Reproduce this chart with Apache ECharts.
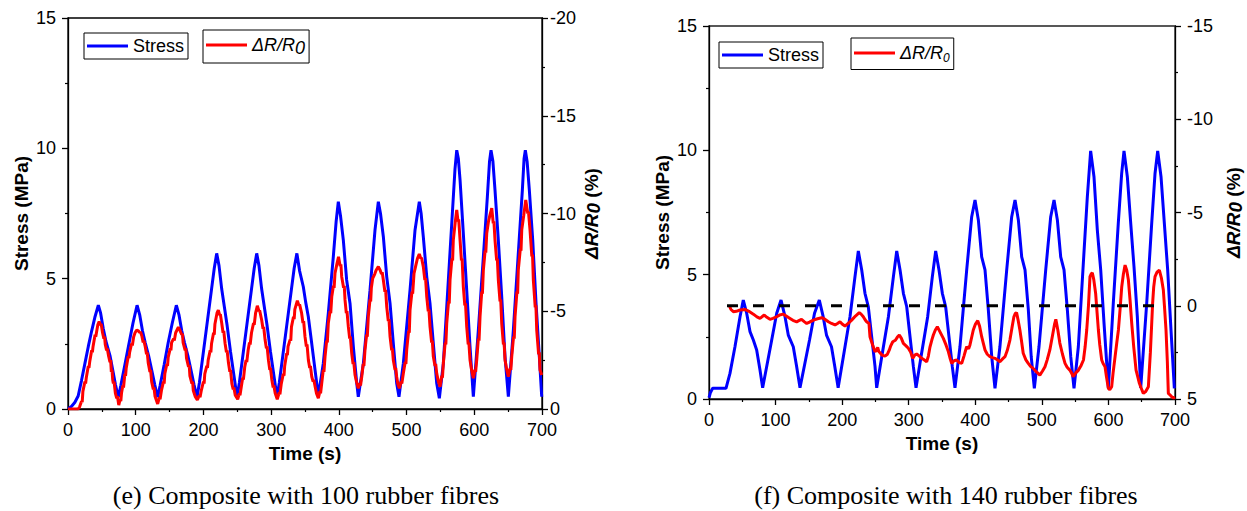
<!DOCTYPE html>
<html>
<head>
<meta charset="utf-8">
<script src="https://cdn.jsdelivr.net/npm/echarts@6.0.0/dist/echarts.min.js"></script>
<style>
html,body{margin:0;padding:0;background:#fff;}
#c{width:1247px;height:511px;}
</style>
</head>
<body>
<div id="c"></div>
<script>
// ---------- DATA ----------
const xTicks = [0, 100, 200, 300, 400, 500, 600, 700];
const captionE = '(e) Composite with 100 rubber fibres';
const captionF = '(f) Composite with 140 rubber fibres';

// (e) Stress (MPa) vs time (s)
const stressE = [
[0,0],[5,0.1],[10,0.25],[15,0.5],[20,1.1],[25,1.75],[30,2.4],[35,3.0],[40,3.55],[44.8,3.98],[48,3.7],[52,3.1],[56,2.6],[62,2.05],[66,1.5],[70,0.95],[74.3,0.45],
[78,0.9],[84,1.7],[90,2.5],[96,3.3],[102,3.98],[106,3.6],[110,3.0],[114,2.55],[119,2.05],[124,1.45],[128,0.95],[132.4,0.45],
[136,0.9],[142,1.7],[148,2.55],[154,3.3],[160,3.98],[164,3.6],[168,3.0],[172,2.55],[177,2.05],[182,1.45],[186,0.95],[190.5,0.45],
[194,1.0],[200,2.2],[206,3.4],[212,4.6],[216,5.4],[219.6,5.97],[223,5.5],[227,4.6],[231,3.9],[235,3.2],[240,2.2],[245,1.3],[249.6,0.45],
[253,1.0],[259,2.2],[265,3.4],[271,4.6],[275,5.4],[278.7,5.97],[282,5.5],[286,4.6],[290,3.9],[294,3.2],[299,2.2],[304,1.3],[308.6,0.45],
[312,1.0],[318,2.2],[324,3.4],[330,4.6],[334,5.4],[338,5.97],[342,5.3],[347.5,4.69],[351,4.1],[354.9,3.54],[359.9,2.52],[364.8,1.5],[369.7,0.5],
[377,1.75],[384.4,3.67],[391.8,5.84],[396,7.2],[399.2,7.95],[402.5,7.4],[406.6,6.48],[411.5,4.95],[416.5,4.05],[421.4,2.39],[426.4,0.99],[428.7,0.47],
[436.2,1.75],[446,4.56],[453.4,6.87],[458.3,7.95],[461.5,7.5],[465.7,6.61],[470.7,5.07],[475.6,4.05],[480.4,2.52],[485.4,0.99],[488.8,0.47],
[495.2,1.75],[505.1,4.56],[512.5,6.87],[518.8,7.95],[521.5,7.5],[524.7,6.61],[529.8,5.07],[534.6,4.05],[539.5,2.52],[544.5,0.99],[548.4,0.41],
[554.3,1.75],[561.7,4.95],[567.6,7.5],[571.5,9.2],[574.1,9.93],[576.5,9.6],[579,8.78],[583.8,6.74],[588.8,4.56],[593.7,2.39],[598.6,0.47],
[606,3.03],[613.4,5.84],[619.3,8.14],[622.5,9.5],[624.7,9.93],[627.5,9.5],[630.6,8.4],[635.5,6.48],[640.5,4.31],[645.4,2.0],[650.3,0.47],
[657.7,3.03],[665,5.97],[671,8.4],[673.5,9.6],[675.4,9.93],[678,9.5],[681.3,8.4],[686.3,6.48],[691.2,4.05],[696.1,2.0],[699.6,0.47]
];

// (e) ΔR/R0 (%) vs time (s)
const resistE = [
[0,0],[8,0],[15,0],[17,-0.1],[20,-0.4],[21,-0.35],[22,-0.9],[25,-1.4],[26,-1.3],[27,-1.6],[30,-2.2],[31,-2.1],[32,-2.4],[35,-3.0],[36,-2.9],[37,-3.2],[40,-3.8],[41,-3.7],[42,-3.9],[44,-4.3],[46,-4.47],[48,-4.3],[49,-4.35],[51,-3.9],[53,-3.6],[54,-3.7],[55,-3.3],[57,-3.0],[58,-3.1],[60,-2.7],[62,-2.4],[63,-2.5],[64,-1.9],[65,-2.0],[66,-1.5],[67,-1.3],[68,-1.4],[70,-0.8],[72,-0.55],[73,-0.65],[75,-0.2],[77,-0.5],[78,-0.4],[79,-0.8],[81,-1.2],[82,-1.1],[84,-1.8],[85,-1.7],[86,-2.1],[89,-2.7],[90,-2.6],[91,-2.9],[94,-3.35],[95,-3.25],[97,-3.7],[99,-3.9],[101.5,-4.04],[104,-4.0],[106,-3.9],[107,-3.95],[109,-3.75],[111,-3.4],[112,-3.5],[114,-3.2],[116,-2.8],[117,-2.9],[118.5,-2.35],[121,-1.9],[122,-2.0],[123.5,-1.4],[126,-1.0],[127,-1.1],[128.5,-0.65],[132.4,-0.26],[135,-0.6],[136,-0.5],[138,-0.95],[141,-1.4],[142,-1.3],[143,-1.8],[146,-2.3],[147,-2.2],[148,-2.65],[151,-3.1],[152,-3.0],[153,-3.4],[156,-3.6],[157,-3.5],[159,-3.9],[163,-4.18],[165,-4.05],[168,-3.8],[169,-3.85],[170,-3.4],[173,-3.0],[174,-3.1],[175,-2.6],[178,-2.15],[179,-2.25],[180,-1.7],[183,-1.3],[184,-1.4],[185,-0.95],[188,-0.63],[191,-0.46],[194,-0.7],[195,-0.6],[197,-0.97],[200,-1.4],[201,-1.3],[202,-1.8],[205,-2.2],[206,-2.1],[207,-2.5],[210,-3.0],[211,-2.9],[212,-3.35],[215,-3.9],[216,-3.8],[217,-4.35],[220,-4.9],[222,-5.06],[224,-4.8],[225,-4.85],[227,-4.4],[229,-3.9],[230,-4.0],[232,-3.35],[234,-2.9],[235,-3.0],[237,-2.35],[239,-1.9],[240,-2.0],[242,-1.3],[244,-1.0],[245,-1.1],[247,-0.7],[250.6,-0.5],[253,-0.8],[254,-0.7],[256,-1.15],[258,-1.6],[259,-1.5],[261,-2.15],[263,-2.5],[264,-2.4],[266,-3.0],[268,-3.4],[269,-3.3],[271,-3.9],[274,-4.4],[275,-4.3],[277,-4.9],[279.6,-5.28],[282,-5.0],[283,-5.05],[286,-4.55],[288,-4.1],[289,-4.2],[291,-3.55],[293,-3.1],[294,-3.2],[296,-2.5],[298,-2.0],[299,-2.1],[301,-1.5],[303,-1.1],[304,-1.2],[306,-0.8],[309,-0.5],[312,-0.85],[313,-0.75],[315,-1.3],[318,-1.8],[319,-1.7],[320,-2.2],[323,-2.85],[324,-2.75],[325,-3.2],[328,-3.55],[329,-3.5],[330,-4.2],[333,-4.72],[334,-4.6],[335,-5.1],[338.7,-5.54],[341,-5.3],[342,-5.35],[345,-4.9],[347,-4.4],[348,-4.5],[350,-3.7],[352,-3.2],[353,-3.3],[355,-2.5],[357,-2.1],[358,-2.2],[360,-1.65],[362,-1.4],[363,-1.5],[365,-1.14],[367,-0.8],[369.7,-0.55],[372,-0.9],[373,-0.8],[374.7,-1.31],[377,-2.0],[378,-1.9],[379.6,-2.68],[382,-3.5],[383,-3.4],[384.4,-4.38],[387,-5.0],[388,-4.9],[389.5,-5.74],[392,-6.3],[393,-6.2],[394.3,-6.94],[397,-7.4],[399.5,-7.79],[402,-7.3],[403,-7.4],[404.2,-6.77],[407,-6.2],[408,-6.3],[409.1,-5.58],[411,-4.9],[412,-5.0],[414,-4.21],[416,-3.6],[417,-3.7],[419,-2.85],[421,-2.3],[422,-2.4],[423.9,-1.74],[426,-1.4],[428.7,-1.06],[431,-1.3],[432,-1.2],[433.8,-1.65],[436,-2.3],[437,-2.2],[438.6,-3.02],[441,-3.8],[442,-3.7],[443.5,-4.72],[446,-5.6],[447,-5.5],[448,-6.2],[450,-6.69],[453,-6.9],[455,-7.1],[458.3,-7.28],[461,-7.1],[463,-6.9],[464,-7.0],[465.7,-6.6],[468,-6.0],[469,-6.1],[470.7,-5.23],[473,-4.5],[474,-4.6],[475.6,-3.7],[478,-3.0],[479,-3.1],[480.4,-2.51],[483,-2.0],[484,-2.1],[485.4,-1.65],[487,-1.3],[489.3,-1.06],[492,-1.4],[493,-1.3],[495.2,-1.82],[498,-2.4],[499,-2.3],[500.2,-3.02],[503,-4.0],[504,-3.9],[505.1,-5.06],[508,-6.0],[509,-5.9],[511,-6.94],[514,-7.4],[516,-7.7],[518.8,-7.93],[521,-7.7],[522,-7.75],[524.7,-7.28],[527,-6.6],[528,-6.7],[529.8,-5.74],[532,-5.0],[533,-5.1],[534.6,-4.21],[537,-3.4],[538,-3.5],[539.5,-2.68],[542,-2.2],[543,-2.3],[544.5,-1.82],[547,-1.4],[549.4,-1.14],[552,-1.7],[553,-1.6],[554.3,-2.34],[557,-3.4],[558,-3.3],[559.3,-4.38],[562,-5.5],[563,-5.4],[564.2,-6.6],[567,-7.7],[568,-7.6],[569,-8.64],[572,-9.6],[574.1,-10.18],[576,-9.6],[577,-9.7],[579,-8.64],[581,-7.6],[582,-7.7],[583.8,-6.26],[586,-5.3],[587,-5.4],[588.8,-4.21],[591,-3.3],[592,-3.4],[593.7,-2.51],[596,-2.0],[598.6,-1.57],[601,-2.0],[602,-1.9],[603.6,-2.51],[606,-3.6],[607,-3.5],[608.5,-4.72],[611,-6.0],[612,-5.9],[613.4,-7.11],[616,-8.1],[617,-8.0],[618.4,-8.99],[621,-9.6],[623,-9.9],[625.8,-10.27],[628,-9.5],[629,-9.6],[630.6,-8.64],[633,-7.6],[634,-7.7],[635.5,-6.6],[638,-5.5],[639,-5.6],[640.5,-4.38],[643,-3.3],[644,-3.4],[645.4,-2.51],[648,-2.0],[650.3,-1.65],[653,-2.1],[654,-2.0],[655.3,-2.68],[658,-3.7],[659,-3.6],[660.2,-4.72],[663,-6.0],[664,-5.9],[665,-7.11],[668,-8.2],[669,-8.1],[670.1,-9.16],[673,-9.9],[676,-10.69],[679,-10.0],[680,-10.1],[682.3,-9.16],[685,-7.8],[686,-7.9],[687.2,-6.6],[690,-5.2],[691,-5.3],[692.2,-4.04],[695,-2.8],[696,-2.9],[697.1,-1.99],[699.6,-1.74]
];

// (f) Stress (MPa) vs time (s)
const stressF = [
[0,0.05],[2,0.25],[5.5,0.43],[15,0.43],[25.5,0.43],[31.5,1.03],[39,2.1],[46.6,3.31],[51.5,3.98],[56.6,3.45],[61.6,2.71],[66.6,2.37],[71.6,1.97],[76.6,1.17],[80.6,0.45],
[86.6,1.3],[94.2,2.37],[101.7,3.45],[108.2,3.98],[114.2,3.31],[119.1,2.57],[126.6,2.1],[131.7,1.3],[136.7,0.45],
[143,1.3],[151,2.37],[158.5,3.45],[165.7,3.98],[171.5,3.31],[176.5,2.57],[184,2.1],[189,1.3],[194,0.45],
[201.8,1.7],[211.8,3.31],[219.3,4.92],[224.3,5.95],[229.4,5.19],[234.3,4.25],[239.3,3.71],[244.4,2.5],[249.4,1.3],[251.9,0.45],
[259.5,1.7],[269.5,3.31],[277,4.92],[282,5.95],[287,5.19],[292,4.25],[297,3.71],[302,2.5],[307,1.3],[311,0.45],
[318.5,1.7],[328.5,3.31],[335.5,4.92],[340.5,5.95],[345.5,5.19],[350.5,4.25],[355.5,3.71],[360.5,2.5],[365.5,1.3],[369.5,0.45],
[377,2.1],[387.1,5.19],[394.6,7.33],[399.6,8.0],[404.6,7.2],[409.6,5.72],[414.6,5.19],[419.6,3.58],[424.7,1.7],[429.6,0.43],
[437,2.1],[447.2,5.19],[454.7,7.33],[459.7,8.0],[464.7,7.2],[469.7,5.72],[474.7,5.19],[479.7,3.58],[484,1.7],[488.7,0.43],
[495.7,2.1],[505.8,5.19],[513.3,7.33],[518.3,8.0],[523.3,7.2],[528.3,5.72],[533.3,5.19],[538.3,3.58],[543.4,1.7],[548.3,0.43],
[554.8,2.1],[562.3,5.46],[568.3,8.13],[573.3,9.98],[578.3,8.94],[583.3,6.8],[588.4,5.19],[593.4,3.04],[599.9,0.45],
[607.3,3.85],[614.8,7.06],[619.9,9.07],[623.4,9.98],[628.4,8.94],[633.5,7.06],[638.4,5.32],[643.4,3.31],[648.5,0.45],
[657.5,3.85],[665,7.06],[670,9.07],[674,9.98],[679,8.94],[684,7.06],[689,5.19],[694,2.77],[699,0.43]
];

// (f) ΔR/R0 (%) vs time (s)
const resistF = [
[30.5,0],[33,0.2],[36.6,0.32],[41,0.3],[46.6,0.23],[54,0.2],[60,0.3],[66.6,0.45],[72,0.6],[76.6,0.68],[80,0.58],[83,0.5],[87,0.62],[91.6,0.73],[96,0.68],[101.6,0.59],[106,0.5],[111.6,0.45],[116,0.55],[121.7,0.68],[126,0.78],[131.7,0.86],[135,0.8],[139,0.73],[143,0.85],[146.8,0.95],[151,0.88],[156.8,0.77],[163,0.7],[169.3,0.64],[174,0.72],[179.3,0.86],[184,0.95],[189.3,1.03],[193,0.95],[196.8,0.86],[200,0.98],[204.3,1.09],[209,0.95],[214.3,0.77],[220,0.55],[225.7,0.37],[228.5,0.45],[231.8,0.59],[234.5,0.75],[236.8,0.86],[240.3,0.95],[241.8,1.66],[245.8,2.1],[249.4,2.46],[251.5,2.4],[253.4,2.23],[255,2.45],[256.9,2.52],[260,2.65],[264.4,2.7],[268,2.6],[270.9,2.37],[273,2.15],[276,1.93],[280,1.85],[283,1.68],[285.9,1.57],[289,1.75],[292,2.02],[296,2.15],[299.5,2.28],[303,2.5],[306,2.82],[309,2.65],[312,2.59],[316,2.7],[319.5,2.82],[323,2.9],[327,3.0],[329.5,2.7],[332,2.2],[335,1.8],[337,1.57],[340,1.3],[343,1.13],[347,1.4],[352,1.75],[356,2.1],[359.5,2.46],[362,2.8],[364.5,3.09],[368,2.95],[372,2.91],[376,3.05],[379.6,3.09],[383,2.7],[387,2.2],[390,2.3],[392,2.1],[394.5,1.7],[397,1.3],[400,1.0],[403.7,0.8],[406.5,1.1],[409.6,1.66],[412,2.0],[414.6,2.37],[418,2.6],[422,2.73],[426,2.78],[429.6,2.82],[433,2.9],[437,3.0],[441,2.85],[444.6,2.73],[448,2.4],[452,1.84],[455,1.2],[458,0.59],[460,0.42],[462,0.37],[464.5,0.8],[467,1.3],[469.5,1.9],[472,2.55],[476,2.9],[479.6,3.09],[483,3.25],[487,3.36],[492,3.55],[497,3.72],[501,3.5],[504.7,3.27],[508,2.9],[512,2.37],[516,1.6],[519,1.0],[521,0.73],[524,1.3],[527,2.0],[531,2.6],[534.8,3.09],[538,3.3],[542,3.45],[544.5,3.6],[547,3.8],[551,3.6],[555,3.45],[559,3.2],[562.5,2.91],[565,2.2],[567.4,1.3],[570,0.0],[572.3,-1.56],[574,-1.7],[575.8,-1.77],[578,-1.4],[580.8,-0.66],[583,0.4],[584.9,1.3],[587,2.1],[589.9,2.91],[592,3.1],[594.9,3.27],[597,3.8],[599.9,4.43],[602,4.5],[604.9,4.34],[607,3.6],[610,2.73],[612.5,2.0],[615,1.3],[617.5,0.2],[620,-1.02],[622.5,-1.7],[625,-2.18],[627.5,-1.9],[630,-1.38],[632.5,-0.3],[635,0.95],[638,2.2],[641.5,3.45],[644,3.8],[646.5,4.16],[649,4.4],[652.4,4.7],[656,4.6],[660,4.34],[663,2.5],[666.4,-0.13],[668,-1.0],[670,-1.56],[673,-1.8],[676.5,-1.91],[679.5,-1.5],[682.5,-0.84],[684.5,0.2],[686.5,1.3],[688.5,3.0],[690,4.7],[693,4.8],[695,4.88],[698,4.95],[700,4.9]
];

// (f) zero reference line (dashed)
const zeroF = [[27,0],[690,0]];

// ---------- CHART ----------
const FONT = '"Liberation Sans", Arial, sans-serif';
const SERIF = '"Liberation Serif", "Times New Roman", serif';
const BLUE = '#0000ff', RED = '#ff0000';

const chart = echarts.init(document.getElementById('c'), null, {renderer: 'svg'});

function xAxisCfg(gi) {
  return {
    type: 'value', gridIndex: gi, min: 0, max: 700, interval: 100,
    axisLine: {show: true, lineStyle: {color: '#000', width: 1.3}},
    axisTick: {show: true, inside: false, length: 6, lineStyle: {color: '#000', width: 1.3}},
    minorTick: {show: true, splitNumber: 2, length: 3, lineStyle: {color: '#000', width: 1.2}},
    axisLabel: {color: '#000', fontSize: 18, fontFamily: FONT, margin: 12,
      formatter: v => xTicks.indexOf(v) >= 0 ? String(v) : ''},
    splitLine: {show: false}, minorSplitLine: {show: false},
    name: 'Time (s)', nameLocation: 'middle', nameGap: 35,
    nameTextStyle: {color: '#000', fontSize: 19, fontWeight: 'bold', fontFamily: FONT}
  };
}
function leftY(gi) {
  return {
    type: 'value', gridIndex: gi, position: 'left', min: 0, max: 15, interval: 5,
    axisLine: {show: true, lineStyle: {color: '#000', width: 1.3}},
    axisTick: {show: true, inside: false, length: 6, lineStyle: {color: '#000', width: 1.3}},
    minorTick: {show: true, splitNumber: 2, length: 3, lineStyle: {color: '#000', width: 1.2}},
    axisLabel: {color: '#000', fontSize: 18, fontFamily: FONT, margin: 12},
    splitLine: {show: false}, minorSplitLine: {show: false},
    name: 'Stress (MPa)', nameLocation: 'middle', nameGap: 37, nameRotate: 90,
    nameTextStyle: {color: '#000', fontSize: 19, fontWeight: 'bold', fontFamily: FONT}
  };
}
function rightY(gi, mn, mx, margin, gap) {
  return {
    type: 'value', gridIndex: gi, position: 'right', min: mn, max: mx, interval: 5, inverse: true,
    axisLine: {show: true, lineStyle: {color: '#000', width: 1.3}},
    axisTick: {show: true, inside: false, length: 6, lineStyle: {color: '#000', width: 1.3}},
    minorTick: {show: true, splitNumber: 2, length: 3, lineStyle: {color: '#000', width: 1.2}},
    axisLabel: {color: '#000', fontSize: 18, fontFamily: FONT, margin: margin},
    splitLine: {show: false}, minorSplitLine: {show: false},
    name: '{a|ΔR/R}{b|0}{c| (%)}', nameLocation: 'middle', nameGap: gap, nameRotate: 90,
    nameTextStyle: {color: '#000', fontSize: 19, fontWeight: 'bold', fontFamily: FONT,
      rich: {
        a: {fontSize: 19, fontWeight: 'bold', fontStyle: 'italic', fontFamily: FONT, color: '#000'},
        b: {fontSize: 19, fontWeight: 'bold', fontStyle: 'italic', fontFamily: FONT, color: '#000', padding: [5, 0, 0, 0]},
        c: {fontSize: 19, fontWeight: 'bold', fontFamily: FONT, color: '#000'}
      }}
  };
}

function legendCfg(name, left, top, rich, subSize) {
  const cfg = {
    data: [name], left: left, top: top, orient: 'horizontal',
    icon: 'rect', itemWidth: 41, itemHeight: 3, itemGap: 5,
    borderColor: '#000', borderWidth: 1, backgroundColor: '#fff',
    padding: [4, 4, 4, 3], selectedMode: false,
    textStyle: {color: '#000', fontSize: 18, fontFamily: FONT}
  };
  if (rich) {
    cfg.formatter = () => '{a|ΔR/R}{b|0}';
    cfg.padding = [6, 4, 6, 3];
    cfg.textStyle.rich = {
      a: {fontSize: 18, fontStyle: 'italic', fontFamily: FONT, color: '#000'},
      b: {fontSize: subSize, fontStyle: 'italic', fontFamily: FONT, color: '#000', padding: [subSize > 14 ? 6 : 9, 0, 0, 0]}
    };
  }
  return cfg;
}

const RNAME = 'ΔR/R0';

const option = {
  backgroundColor: '#fff',
  animation: false,
  grid: [
    {left: 68, top: 18, width: 474, height: 391, show: true, borderColor: '#000', borderWidth: 1.3, backgroundColor: 'transparent', containLabel: false},
    {left: 709, top: 26, width: 466, height: 373, show: true, borderColor: '#222', borderWidth: 1.3, backgroundColor: 'transparent', containLabel: false}
  ],
  xAxis: [xAxisCfg(0), xAxisCfg(1)],
  yAxis: [
    leftY(0),
    rightY(0, -20, 0, 8, 37),
    leftY(1),
    rightY(1, -15, 5, 12, 46)
  ],
  legend: [
    legendCfg('Stress', 84, 33, false),
    legendCfg(RNAME, 203, 30, true, 18),
    legendCfg('Stress', 719, 42, false),
    legendCfg(RNAME, 851, 38, true, 12)
  ],
  series: [
    {name: 'Stress', type: 'line', xAxisIndex: 0, yAxisIndex: 0, data: stressE, symbol: 'none',
      lineStyle: {color: BLUE, width: 3}, itemStyle: {color: BLUE}, z: 2},
    {name: RNAME, type: 'line', xAxisIndex: 0, yAxisIndex: 1, data: resistE, symbol: 'none',
      lineStyle: {color: RED, width: 3}, itemStyle: {color: RED}, z: 3},
    {name: 'Stress', type: 'line', xAxisIndex: 1, yAxisIndex: 2, data: stressF, symbol: 'none',
      lineStyle: {color: BLUE, width: 3}, itemStyle: {color: BLUE}, z: 2},
    {name: RNAME, type: 'line', xAxisIndex: 1, yAxisIndex: 3, data: resistF, symbol: 'none',
      lineStyle: {color: RED, width: 3}, itemStyle: {color: RED}, z: 3},
    {name: 'zero', type: 'line', xAxisIndex: 1, yAxisIndex: 3, data: zeroF, symbol: 'none',
      lineStyle: {color: '#000', width: 3, type: [11, 15]}, z: 4, silent: true}
  ],
  graphic: [
    {type: 'text', x: 306, y: 495, style: {text: captionE, fill: '#000', fontSize: 26, fontFamily: SERIF,
      align: 'center', verticalAlign: 'middle', textAlign: 'center', textVerticalAlign: 'middle'}},
    {type: 'text', x: 946, y: 495, style: {text: captionF, fill: '#000', fontSize: 26, fontFamily: SERIF,
      align: 'center', verticalAlign: 'middle', textAlign: 'center', textVerticalAlign: 'middle'}}
  ]
};
chart.setOption(option);
</script>
</body>
</html>
